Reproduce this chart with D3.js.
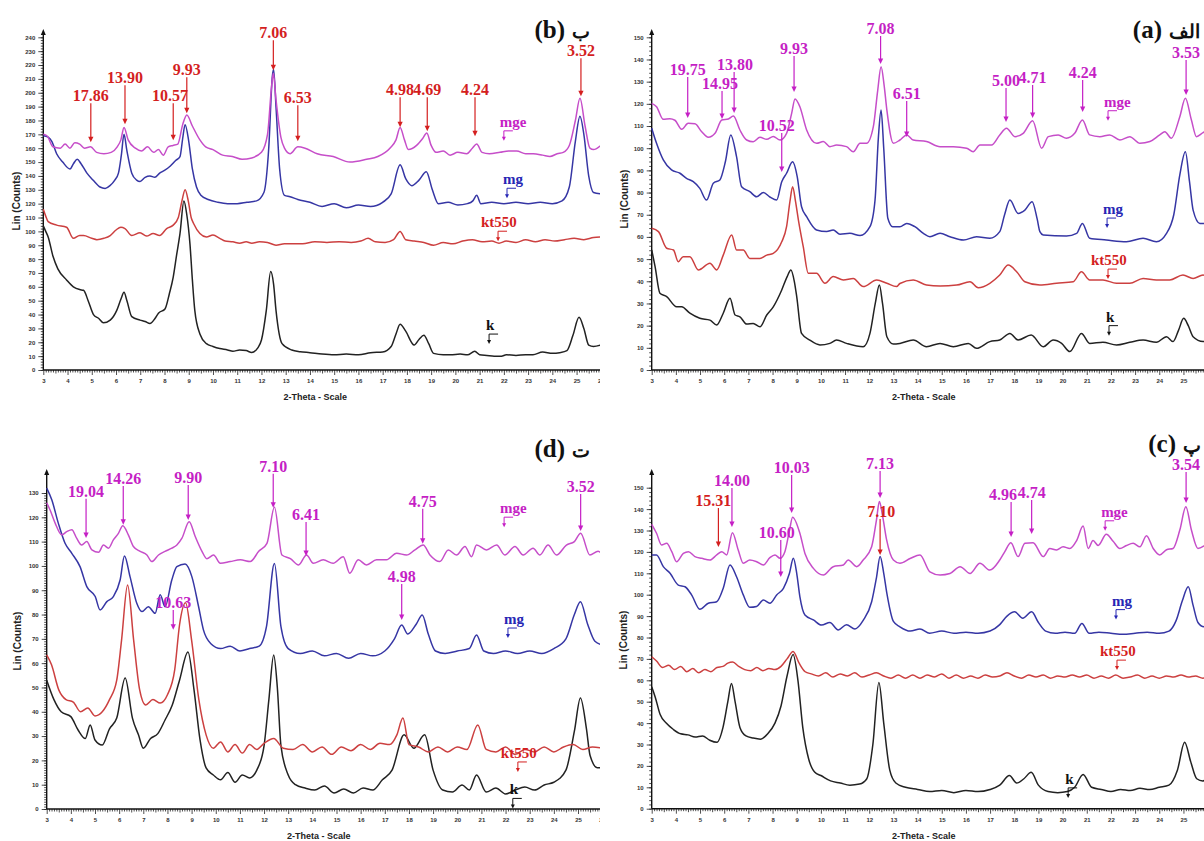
<!DOCTYPE html>
<html><head><meta charset="utf-8">
<script src="https://cdn.jsdelivr.net/npm/d3@7"></script>
<style>
body{margin:0;background:#fff}
svg{display:block}
.tick text{font-family:"Liberation Sans",Arial,sans-serif;font-weight:bold;font-size:6px;fill:#333}
</style></head><body>
<svg id="chart" width="1204" height="841"></svg>
<script>
// ---- panel (b) ----
const b_mge = [[3.0,170],[3.15,169],[3.4,161],[3.7,160],[3.9,163],[4.1,160],[4.3,164],[4.5,163],[4.7,160],[4.95,161],[5.2,157],[5.5,156],[5.8,157],[6.05,161],[6.2,166],[6.33,175],[6.5,166],[6.8,160],[7.05,158],[7.3,161],[7.55,157],[7.75,159],[7.95,155],[8.15,161],[8.35,162],[8.55,163],[8.75,177],[8.92,184],[9.15,176],[9.46,166],[9.7,161],[10.0,159],[10.4,155],[10.8,154],[11.2,152],[11.6,153],[12.0,157],[12.25,170],[12.42,205],[12.49,214],[12.6,195],[12.8,168],[12.95,160],[13.18,156],[13.5,161],[13.8,160],[14.3,156],[14.96,154],[15.65,150],[16.34,152],[16.8,154],[17.3,160],[17.55,166],[17.72,175],[17.9,166],[18.06,159],[18.4,162],[18.65,167],[18.82,171],[19.0,162],[19.2,157],[19.5,158],[19.78,155],[20.1,157],[20.47,156],[20.7,160],[20.88,163],[21.1,157],[21.4,156],[21.84,157],[22.2,158],[22.53,158],[22.9,156],[23.21,156],[23.6,155],[23.9,154],[24.2,156],[24.45,157],[24.7,162],[24.95,180],[25.14,196],[25.35,176],[25.55,160],[25.7,159],[26,162]];
const b_mg = [[3.0,169],[3.2,168],[3.35,165],[3.55,156],[3.8,150],[4.1,145],[4.25,149],[4.4,152],[4.55,149],[4.8,142],[5.05,137],[5.34,132],[5.55,131],[5.75,133],[5.95,137],[6.1,142],[6.22,155],[6.33,170],[6.45,158],[6.65,142],[6.85,137],[6.99,136],[7.2,139],[7.4,140],[7.6,139],[7.8,142],[8.0,144],[8.23,147],[8.45,151],[8.64,154],[8.75,167],[8.85,177],[9.0,165],[9.15,145],[9.32,132],[9.5,126],[9.8,123],[10.2,121],[10.6,120],[11.0,120],[11.4,121],[11.8,122],[12.1,128],[12.3,160],[12.45,212],[12.5,217],[12.6,190],[12.75,145],[12.95,126],[13.18,125],[13.5,123],[14.0,121],[14.5,118],[15.0,120],[15.5,117],[16.0,119],[16.5,118],[17.0,121],[17.35,127],[17.72,148],[17.95,138],[18.2,133],[18.5,137],[18.8,143],[19.05,130],[19.3,120],[19.7,121],[20.1,119],[20.5,120],[20.72,122],[20.88,126],[21.05,120],[21.5,121],[22.0,120],[22.5,121],[23.0,120],[23.5,121],[24.0,120],[24.4,122],[24.7,132],[24.95,165],[25.14,183],[25.3,170],[25.5,140],[25.7,128],[26,127]];
const b_kt = [[3.0,116],[3.1,111],[3.2,107],[3.55,104.5],[3.96,103],[4.24,95],[4.5,97],[4.66,97],[5.0,95],[5.21,94],[5.5,95],[5.76,97],[6.0,101],[6.2,103],[6.37,102],[6.65,97],[6.99,99],[7.26,96.6],[7.53,98.5],[7.8,97],[8.09,102],[8.36,104.5],[8.57,110],[8.72,122],[8.85,130],[8.98,122],[9.1,110],[9.2,105.7],[9.46,98.5],[9.73,96],[10.0,97.3],[10.28,95],[10.5,93],[10.82,92.5],[11.1,91.5],[11.37,92.5],[11.6,91.5],[11.92,92.5],[12.25,92],[12.6,90],[12.95,91],[13.3,91],[13.7,91],[14.2,92.5],[14.7,92],[15.2,92.5],[15.7,92],[16.1,93],[16.4,95],[16.7,92.5],[17.1,92],[17.45,94],[17.72,100],[17.95,94],[18.3,93],[18.7,92],[19.1,90],[19.5,92],[19.9,91],[20.3,93],[20.7,94],[21.1,92.5],[21.5,93],[21.8,91.5],[22.1,93],[22.5,92],[22.9,94],[23.3,92.5],[23.7,94],[24.1,93],[24.5,94],[24.9,95],[25.3,94],[25.7,95.5],[26,96]];
const b_k = [[3.0,104],[3.1,100],[3.2,96],[3.4,82],[3.6,73],[3.96,65],[4.24,60],[4.5,58],[4.66,57.5],[4.85,50],[5.07,40],[5.3,37],[5.48,34],[5.76,36],[6.03,43],[6.2,51],[6.33,56],[6.45,50],[6.65,38.5],[6.99,36],[7.2,35],[7.4,33.6],[7.6,37],[7.75,41],[8.02,44],[8.2,55],[8.36,67],[8.5,83],[8.64,98.5],[8.8,122],[8.92,112],[9.05,91],[9.15,65],[9.25,43],[9.46,26],[9.73,19],[10.0,17],[10.28,15.5],[10.6,14.5],[10.82,13.5],[11.1,14.5],[11.37,14],[11.6,12.7],[11.85,16],[12.0,21.6],[12.2,43],[12.38,71],[12.5,62],[12.6,43],[12.85,19],[13.25,14.4],[13.6,13.2],[14.0,12.5],[14.5,11.5],[15.0,11],[15.5,11.5],[16.0,11],[16.5,12.5],[17.0,13],[17.35,17],[17.55,26],[17.72,33],[17.95,28],[18.3,18],[18.5,22],[18.7,25],[18.9,19],[19.1,12],[19.5,11],[19.8,11],[20.2,11.5],[20.5,11],[20.8,13.5],[21.0,11],[21.3,10.5],[21.6,10],[21.9,10],[22.1,11],[22.5,10.5],[22.9,11],[23.2,11],[23.6,13],[24.0,12],[24.3,12.5],[24.6,14],[24.85,25],[25.1,38],[25.3,30],[25.5,18],[25.7,17],[26,18]];
// [label, 2-theta, arrow top (counts), arrow tip (counts), sample, label 2-theta]
const b_peaks = [["17.86",4.96,192.4,164.3,"kt550"],["13.90",6.37,205.4,177.3,"kt550"],["10.57",8.36,192.4,165.8,"kt550",8.23],["9.93",8.92,211.2,185.2,"kt550"],["7.06",12.49,237.8,216.2,"kt550"],["6.53",13.5,191,165,"kt550"],["4.98",17.72,196.8,175.1,"kt550"],["4.69",18.84,196.8,172.3,"kt550"],["4.24",20.81,196.8,168.6,"kt550"],["3.52",25.18,224.9,197.5,"kt550"]];
const b_tags = [["mge",22.0,175.4],["mg",22.13,134],["kt550",21.76,103],["k",21.39,28.8]];

// ---- panel (a) ----
const a_mge = [[3.0,120.2],[3.2,118.7],[3.48,113],[3.75,113.3],[3.96,112.6],[4.24,108.5],[4.51,111.2],[4.79,111],[5.07,107.4],[5.34,104.9],[5.62,106.7],[5.9,112.7],[6.17,113.2],[6.38,114.5],[6.65,108.2],[6.93,103.7],[7.2,102.9],[7.48,104.9],[7.76,104],[8.03,105.3],[8.31,103.7],[8.58,106.7],[8.79,115.7],[8.93,122.2],[9.13,118.7],[9.41,108.2],[9.82,102.2],[10.1,103],[10.37,100.7],[10.65,101.4],[11.06,100.7],[11.34,98.4],[11.62,102.2],[11.89,102.2],[12.17,109.7],[12.35,126],[12.49,136.7],[12.62,128],[12.73,117.2],[13.0,102.2],[13.27,103.7],[13.55,106],[13.82,103.7],[14.37,103],[14.93,100.7],[15.48,100.7],[16.03,100],[16.3,98.4],[16.58,101.4],[17.06,101.4],[17.4,106],[17.68,109],[18.03,105.2],[18.37,106.7],[18.76,112.4],[19.13,100],[19.41,105.2],[19.82,106],[20.16,104.5],[20.5,106.7],[20.82,112.7],[21.12,106],[21.54,105.2],[21.95,106],[22.37,103.7],[22.78,105.2],[23.2,102.2],[23.61,103],[24.02,106],[24.23,107.4],[24.5,104.5],[24.85,114.2],[25.08,122.5],[25.33,112.7],[25.54,105.2],[25.81,107],[26,108]];
const a_mg = [[3.0,109],[3.2,102.2],[3.48,94.7],[3.82,90.2],[4.17,88.7],[4.44,86.4],[4.72,84.9],[4.99,81.9],[5.27,76.6],[5.55,84.2],[5.82,85.7],[6.05,94],[6.27,106],[6.51,96.2],[6.72,82.6],[7.06,80.4],[7.34,78.1],[7.62,80],[7.89,78],[8.17,76.6],[8.38,84.9],[8.58,88.7],[8.83,93.9],[9.02,87.2],[9.2,73.6],[9.41,69.1],[9.82,63.1],[10.24,62.4],[10.51,63.1],[10.79,61.2],[11.2,61.6],[11.62,60.6],[12.03,64.6],[12.24,76.6],[12.38,105],[12.49,117.2],[12.6,100],[12.77,68.4],[12.97,64.6],[13.27,64.6],[13.55,66.1],[13.89,64.6],[14.24,61.6],[14.51,60.1],[14.93,61.6],[15.34,60.1],[15.9,58.6],[16.44,60.1],[16.99,59.4],[17.4,62.4],[17.6,70],[17.82,76.6],[18.16,70.6],[18.44,72.1],[18.74,75.9],[18.95,68],[19.06,62.4],[19.2,60.9],[20.16,60.4],[20.58,61.6],[20.82,66.1],[21.12,59.4],[21.81,58.6],[22.64,57.8],[23.33,59.4],[23.88,57.8],[24.3,61.6],[24.6,70],[24.85,88],[25.08,98.4],[25.25,85],[25.4,72.1],[25.68,66.1],[26,66]];
const a_kt = [[3.0,63.9],[3.28,62.4],[3.62,54.9],[3.9,54.1],[4.1,48.8],[4.3,51.1],[4.58,51.1],[4.93,45.1],[5.41,48.1],[5.69,45.1],[5.96,51.8],[6.31,60.9],[6.51,54.1],[6.79,54.1],[7.06,50.3],[7.48,50.3],[7.76,51.8],[8.03,52.6],[8.38,57.8],[8.58,64.6],[8.72,76],[8.83,82.6],[8.95,76],[9.07,67.6],[9.27,55.6],[9.48,43.6],[9.82,43.6],[10.17,39.1],[10.51,42.1],[10.93,40.6],[11.34,41.3],[11.75,37.6],[12.31,40.6],[12.73,39.1],[13.13,37.6],[13.27,39],[13.82,40.6],[14.37,38.3],[14.93,37.9],[15.62,38.3],[16.17,39.8],[16.51,37.1],[16.99,39.1],[17.4,42.8],[17.75,47.3],[18.1,44.3],[18.44,39.8],[19.06,38.3],[19.75,39.1],[20.44,39.8],[20.78,44.3],[21.12,40.6],[21.67,40.6],[22.23,39.1],[22.78,39.1],[23.33,41.3],[23.88,40.6],[24.43,40.6],[24.98,42.8],[25.4,41.3],[25.81,42.8],[26,42]];
const a_k = [[3.0,54.1],[3.14,46.6],[3.34,34.6],[3.62,33.1],[4.03,28.5],[4.24,28.5],[4.58,25.6],[4.99,23.3],[5.41,22.5],[5.69,20.3],[5.96,25.6],[6.24,32.3],[6.45,24.8],[6.65,24],[6.93,20.7],[7.2,21],[7.48,19.5],[7.76,24.8],[8.03,28.5],[8.38,36.1],[8.6,42],[8.76,45.1],[8.9,40],[9.0,33.1],[9.2,16.5],[9.54,13.5],[9.96,11.3],[10.37,12],[10.65,13.5],[11.06,12],[11.75,10.5],[12.03,16.5],[12.25,30],[12.42,38.3],[12.55,30],[12.73,15],[13.0,11.7],[13.27,12],[13.82,13.5],[14.37,10.5],[14.93,12],[15.48,10.5],[16.1,12],[16.44,9.8],[16.99,12.8],[17.4,13.5],[17.82,16.5],[18.16,13.5],[18.7,15.8],[19.2,10.5],[19.61,13.5],[19.96,12],[20.3,8.3],[20.78,16.5],[21.12,12],[21.67,12.5],[22.23,11.3],[22.78,12.5],[23.33,13.5],[23.88,12.5],[24.3,15],[24.57,12.8],[24.8,18],[25.01,23.3],[25.2,20],[25.4,15],[25.81,12.8],[26,13]];
const a_peaks = [["19.75",4.49,132.1,113.6,"mge"],["14.95",5.91,125.8,113.2,"mge",5.83],["13.80",6.41,134.4,115.9,"mge",6.45],["10.52",8.38,106.9,89.3,"mge",8.17],["9.93",8.89,141.6,125.3,"mge"],["7.08",12.47,150.6,138,"mge"],["6.51",13.55,121.3,105,"mge"],["5.00",17.66,127.1,111.8,"mge"],["4.71",18.76,128.5,113.6,"mge"],["4.24",20.83,130.7,116.3,"mge"],["3.53",25.11,139.8,124,"mge"]];
const a_tags = [["mge",21.88,118.7],["mg",21.84,70.3],["kt550",21.88,47.3],["k",21.92,21.8]];

// ---- panel (d) ----
const d_mge = [[3.0,126],[3.14,123],[3.35,117.6],[3.62,112.8],[3.83,114.1],[4.04,114.9],[4.24,111.4],[4.45,108.6],[4.66,110],[4.87,106.6],[5.15,105.6],[5.35,108.6],[5.56,107.3],[5.76,110.7],[5.97,113.4],[6.15,116.5],[6.38,112.8],[6.59,108],[6.87,106],[7.15,104.5],[7.35,101.8],[7.63,104.5],[7.9,106],[8.18,107.3],[8.39,108.6],[8.6,111.4],[8.9,118.2],[9.15,112.1],[9.43,106],[9.63,103],[9.91,104.5],[10.19,101.1],[10.6,101.8],[11.02,102.5],[11.43,101.8],[11.78,106],[12.12,109.3],[12.43,124.2],[12.74,104.5],[13.09,103],[13.43,100.4],[13.76,104.5],[14.04,101.1],[14.45,102.5],[14.86,101.1],[15.28,103.8],[15.55,97],[15.9,102.5],[16.24,100.4],[16.66,102.5],[17.07,102.5],[17.49,105.2],[17.9,104.5],[18.25,106.6],[18.59,108.6],[18.87,104.5],[19.28,101.8],[19.63,106.6],[19.97,104.5],[20.32,108],[20.59,103.8],[20.8,108.6],[21.21,106.6],[21.63,108.6],[21.97,104.5],[22.39,108],[22.73,104.5],[23.14,107.3],[23.42,104.5],[23.76,108.6],[24.11,104.5],[24.52,108.6],[24.85,110],[25.11,113.4],[25.49,104.5],[25.83,106],[26,105]];
const d_mg = [[3.0,132],[3.21,127.2],[3.48,117.6],[3.76,109.3],[4.04,105.2],[4.38,99.7],[4.66,91.5],[5.01,87.4],[5.21,81.9],[5.49,85.3],[5.76,87.4],[6.04,94.2],[6.22,104.1],[6.45,95.6],[6.73,84.6],[6.94,81.2],[7.21,83.2],[7.49,80.5],[7.7,88.1],[7.9,83.2],[8.18,94.2],[8.39,99.7],[8.73,100.8],[9.01,95.6],[9.29,83.2],[9.49,73.7],[9.8,68],[10.2,66],[10.6,67],[11.0,65],[11.4,66],[11.8,67],[12.1,75],[12.43,101],[12.7,75],[13.0,66],[13.5,64],[14.0,65],[14.5,63],[15.0,64],[15.5,62],[16.0,64],[16.5,63],[17.0,65],[17.4,70],[17.7,75.7],[17.95,72],[18.3,76],[18.55,79.8],[18.8,72],[19.1,65],[19.5,64],[20.0,65],[20.5,66],[20.8,71.6],[21.1,65],[21.5,64],[22.0,65],[22.5,64],[23.0,65],[23.5,64],[24.0,66],[24.5,70],[24.85,80],[25.1,85.3],[25.4,76],[25.7,69],[26,67.5]];
const d_kt = [[3.0,63.4],[3.2,59.3],[3.5,49],[3.8,45],[4.1,44],[4.4,40],[4.7,41.6],[5.0,38.3],[5.3,40],[5.6,45],[5.9,53],[6.1,69.5],[6.35,92.2],[6.6,69.5],[6.85,49],[7.1,42.8],[7.4,45],[7.7,43.6],[8.0,47],[8.3,57.2],[8.5,75.7],[8.75,84.8],[9.0,69.5],[9.3,45],[9.6,30.5],[9.9,25],[10.2,27.6],[10.5,23.5],[10.8,26.5],[11.1,23],[11.4,26.5],[11.7,24.5],[12.0,27],[12.4,29],[12.8,25],[13.2,24.5],[13.6,26.5],[14.0,23.5],[14.4,25.5],[14.8,22.5],[15.2,25.5],[15.6,24],[16.0,26.5],[16.4,24.5],[16.8,27],[17.2,26.5],[17.5,30.5],[17.75,37.4],[18.0,26.5],[18.4,25.5],[18.8,23.5],[19.2,25.5],[19.6,23.5],[20.0,25.5],[20.4,24.5],[20.85,34.6],[21.2,24.5],[21.6,23.5],[22.0,25.5],[22.4,22.5],[22.8,24.5],[23.2,23.5],[23.6,25.5],[24.0,23.5],[24.4,25.5],[24.8,26.5],[25.2,24.5],[25.6,25.5],[26,25]];
const d_k = [[3.0,53],[3.3,45],[3.6,40],[4.0,38],[4.3,32.5],[4.6,29],[4.8,34.6],[5.0,28.4],[5.3,26.3],[5.6,33],[5.9,37.4],[6.25,53.9],[6.55,37.4],[6.8,30.5],[7.0,25],[7.3,29],[7.6,31],[7.9,36.6],[8.2,42.8],[8.5,53],[8.85,64.6],[9.1,49],[9.35,28.4],[9.6,16.9],[9.9,14],[10.2,12],[10.5,15],[10.8,11],[11.1,14],[11.4,12.8],[11.7,16],[12.0,26],[12.2,45],[12.4,63.4],[12.55,50],[12.7,26],[13.0,14],[13.3,10],[13.7,8.6],[14.1,7.8],[14.5,9.5],[14.9,6.6],[15.3,8.2],[15.7,6.6],[16.1,8.6],[16.5,7.8],[16.9,12],[17.3,16],[17.8,30.5],[18.2,25],[18.65,30.5],[19.0,16],[19.4,7.8],[19.8,7],[20.2,9.9],[20.5,7.8],[20.8,14],[21.2,7],[21.6,8.6],[22.0,6.2],[22.4,7.8],[22.8,9],[23.2,7.8],[23.6,9.9],[24.0,11],[24.5,16],[24.85,32],[25.1,45.7],[25.35,33],[25.5,22],[25.8,17],[26,17]];
const d_peaks = [["19.04",4.63,127.6,111.5,"mge"],["14.26",6.17,132.9,116.9,"mge"],["9.90",8.86,133.3,118.9,"mge"],["7.10",12.38,137.9,123.9,"mge"],["6.41",13.74,118.1,104.1,"mge"],["4.75",18.57,123.5,109.1,"mge"],["3.52",25.11,129.6,114.4,"mge"],["4.98",17.7,92.6,77.8,"mge"],["10.63",8.24,81.9,73.7,"mge"]];
const d_tags = [["mge",21.94,121.7],["mg",22.1,76.1],["kt550",22.51,21],["k",22.3,6]];

// ---- panel (c) ----
const c_mge = [[3.0,132.9],[3.2,128.7],[3.41,123.2],[3.62,124],[3.83,120.1],[4.03,115.4],[4.31,119.3],[4.52,120.1],[4.79,117.8],[5.07,117],[5.41,116.2],[5.69,118.6],[5.9,120.1],[6.1,118.6],[6.34,129],[6.58,120.9],[6.79,114.7],[7.06,116.2],[7.34,115.4],[7.62,113.9],[7.89,117.3],[8.1,118.6],[8.31,117],[8.51,120.1],[8.7,130],[8.83,136.2],[9.13,128.7],[9.34,119.3],[9.69,112.3],[10.1,109.2],[10.51,113.1],[10.93,113.9],[11.13,116.2],[11.48,113.1],[11.75,116.2],[12.1,122.4],[12.3,135],[12.42,143.5],[12.55,137],[12.72,125.6],[13.0,116.2],[13.27,114.7],[13.69,116.9],[14.1,118.6],[14.51,110.7],[14.93,109.2],[15.34,109.9],[15.76,113.1],[16.17,109.9],[16.58,114.7],[16.99,111.5],[17.4,116.2],[17.61,120.1],[17.86,124.3],[18.16,117.8],[18.44,124],[18.78,124.3],[19.2,117.8],[19.47,121.6],[19.75,120.9],[20.02,122.4],[20.3,121.6],[20.58,125.3],[20.85,132.1],[21.06,121.6],[21.26,125.3],[21.47,123],[21.81,128.2],[22.09,125],[22.37,121.6],[22.64,123],[22.92,124],[23.2,122.4],[23.47,127.6],[23.75,121.6],[24.02,118.6],[24.3,121],[24.57,121.6],[24.85,130.2],[25.1,141.1],[25.33,130.2],[25.6,121.6],[26,124]];
const c_mg = [[3.0,118.6],[3.2,118.6],[3.48,113.1],[3.76,110],[4.1,104.5],[4.38,103.7],[4.65,99.9],[4.99,93.2],[5.34,96],[5.69,96.7],[5.96,103],[6.24,113.9],[6.51,108.4],[6.79,99.9],[7.06,94.1],[7.34,94.5],[7.62,97.5],[7.89,96],[8.17,99.9],[8.45,103],[8.7,110],[8.86,117],[9.0,110],[9.13,99.1],[9.34,90.5],[9.69,88.2],[10.03,85.8],[10.37,87],[10.72,83.5],[11.06,86],[11.41,84],[11.75,88],[12.1,96.7],[12.3,108],[12.45,117.8],[12.6,110],[12.73,100.6],[13.0,87.5],[13.27,85],[13.7,83],[14.1,84],[14.5,82],[15.0,83],[15.5,82],[16.0,82.5],[16.5,82],[17.0,83],[17.4,86],[17.7,90],[18.02,92],[18.35,89],[18.72,92],[19.0,87],[19.3,83],[19.7,82],[20.1,82.5],[20.5,82],[20.8,86.6],[21.1,82],[21.5,82.5],[22.0,82],[22.5,81.5],[23.0,82],[23.5,82.5],[24.0,82],[24.4,83],[24.7,88],[24.95,97],[25.2,103.7],[25.4,95],[25.6,87],[25.85,85],[26,85]];
const c_kt = [[3.0,71],[3.2,69],[3.45,66],[3.7,67],[3.95,65],[4.2,66.5],[4.45,64],[4.7,65.5],[4.95,63.5],[5.2,65],[5.45,64],[5.7,66],[5.95,66.5],[6.15,68],[6.35,68.5],[6.6,66.5],[6.85,65],[7.1,64.5],[7.35,66],[7.6,64.5],[7.85,65.5],[8.1,65],[8.35,66.5],[8.6,70],[8.85,73.5],[9.1,68],[9.35,64],[9.6,63],[9.9,62],[10.2,63.5],[10.5,61.5],[10.8,63],[11.1,62],[11.4,63.5],[11.7,61.5],[12.0,62.5],[12.3,63.5],[12.6,62],[12.9,61],[13.2,62.5],[13.5,61],[13.8,62.5],[14.1,61],[14.4,62.5],[14.7,61.5],[15.0,63],[15.3,61],[15.6,62.5],[15.9,61],[16.2,62],[16.5,61],[16.8,62.5],[17.1,61.5],[17.4,62],[17.7,63.5],[18.0,62],[18.3,61],[18.6,62.5],[18.9,61.5],[19.2,62.5],[19.5,61],[19.8,62],[20.1,61.5],[20.4,62.5],[20.7,61.5],[21.0,62.5],[21.3,61],[21.6,62],[21.9,61],[22.2,62.5],[22.5,61],[22.8,61.5],[23.1,62.5],[23.4,61],[23.7,62],[24.0,61],[24.3,62],[24.6,61.5],[24.9,62.5],[25.2,61.5],[25.5,62],[25.8,61],[26,61.5]];
const c_k = [[3.0,57],[3.15,52],[3.35,44],[3.6,40],[3.9,37],[4.2,35],[4.5,34.5],[4.8,33.5],[5.1,34],[5.4,32],[5.7,31],[5.95,38],[6.15,50],[6.3,58.5],[6.45,50],[6.65,38],[6.9,34],[7.2,33],[7.5,32.5],[7.8,35],[8.1,40],[8.35,48],[8.6,62],[8.85,72],[9.05,60],[9.25,38],[9.5,23],[9.75,17],[10.0,15.5],[10.4,13],[10.8,12],[11.2,11],[11.6,11.5],[11.9,14],[12.15,30],[12.4,59],[12.6,40],[12.85,18],[13.1,12],[13.5,10],[14.0,9],[14.5,8],[15.0,8.5],[15.5,7.5],[16.0,8.5],[16.5,8],[17.0,9],[17.4,11],[17.8,15.5],[18.1,12],[18.4,14],[18.7,17],[19.0,11],[19.4,8],[19.8,7.5],[20.2,8],[20.5,10],[20.85,16],[21.2,10],[21.6,9],[22.0,8],[22.4,9],[22.8,8.5],[23.2,9.5],[23.6,9],[24.0,10],[24.4,11],[24.75,18],[25.05,31],[25.3,22],[25.55,14],[25.8,13],[26,14]];
const c_peaks = [["15.31",5.76,140.5,122.3,"kt550",5.55],["14.00",6.32,149.9,131.6,"mge"],["10.03",8.79,155.9,138.2,"mge"],["10.60",8.34,125.6,108.3,"mge",8.17],["7.13",12.45,157.8,145.2,"mge"],["7.10",12.45,135.4,118.6,"kt550",12.5],["4.96",17.87,143.3,127,"mge",17.53],["4.74",18.72,144.3,128.4,"mge"],["3.54",25.11,157.3,142.9,"mge"]];
const c_tags = [["mge",21.76,136.4],["mg",22.21,94.9],["kt550",22.25,71.3],["k",20.23,11.6]];

// layout of the four panels (pixels)
const panels = [
  {id:"b", mge:b_mge, mg:b_mg, kt550:b_kt, k:b_k, peaks:b_peaks, tags:b_tags, ymax:240, minor:2,
   x0:43.3, kx:24.24, y0:370, ytop:37.3, axTop:33, clip:[0,0,600,420], title:"(b)", fa:"ب", tx:565, ty:38, ylab:[16,201], xlabY:400},
  {id:"a", mge:a_mge, mg:a_mg, kt550:a_kt, k:a_k, peaks:a_peaks, tags:a_tags, ymax:150, minor:2,
   x0:651.7, kx:24.17, y0:370, ytop:37.3, axTop:33, clip:[605,0,600,420], title:"(a)", fa:"الف", tx:1162, ty:38, ylab:[624,199], xlabY:400},
  {id:"d", mge:d_mge, mg:d_mg, kt550:d_kt, k:d_k, peaks:d_peaks, tags:d_tags, ymax:130, minor:1,
   x0:46.7, kx:24.15, y0:809, ytop:493, axTop:473, clip:[0,420,600,421], title:"(d)", fa:"ت", tx:565, ty:457, ylab:[17,641], xlabY:839},
  {id:"c", mge:c_mge, mg:c_mg, kt550:c_kt, k:c_k, peaks:c_peaks, tags:c_tags, ymax:150, minor:2,
   x0:651.7, kx:24.17, y0:808.7, ytop:487.7, axTop:473, clip:[605,420,600,421], title:"(c)", fa:"پ", tx:1176, ty:452, ylab:[623,640], xlabY:839}
];

const lineColor = {mge:"#c64ec9", mg:"#3636a4", kt550:"#cc4040", k:"#222"};
const textColor = {mge:"#c51fc5", mg:"#2626b4", kt550:"#d41f1f", k:"#111"};
const tagShift = {mge:4, mg:4, kt550:17, k:3};
const serif = "'Liberation Serif','Times New Roman','DejaVu Serif',serif";
const sans = "'Liberation Sans',Arial,sans-serif";

const svg = d3.select("#chart");
const defs = svg.append("defs");

panels.forEach(p => {
  defs.append("clipPath").attr("id", "clip-" + p.id)
    .append("rect").attr("x", p.clip[0]).attr("y", p.clip[1]).attr("width", p.clip[2]).attr("height", p.clip[3]);

  const x = d3.scaleLinear().domain([3, 26]).range([p.x0, p.x0 + 23 * p.kx]);
  const y = d3.scaleLinear().domain([0, p.ymax]).range([p.y0, p.ytop]);
  const g = svg.append("g").attr("clip-path", `url(#clip-${p.id})`);

  // x axis: minor, half and major ticks
  const xMinor = d3.range(30, 261).map(v => v / 10).filter(v => v % 1 !== 0 && v % 1 !== 0.5);
  const xHalf = d3.range(3.5, 26, 1);
  g.append("g").attr("transform", `translate(0,${p.y0})`)
    .call(d3.axisBottom(x).tickValues(xMinor).tickSize(2.5).tickFormat(""))
    .call(a => a.select(".domain").remove());
  g.append("g").attr("transform", `translate(0,${p.y0})`)
    .call(d3.axisBottom(x).tickValues(xHalf).tickSize(3.5).tickFormat(""))
    .call(a => a.select(".domain").remove());
  g.append("g").attr("transform", `translate(0,${p.y0})`)
    .call(d3.axisBottom(x).tickValues(d3.range(3, 27)).tickSize(5).tickPadding(4).tickFormat(d3.format("d")))
    .call(a => a.select(".domain").remove());

  // y axis
  g.append("g").attr("transform", `translate(${p.x0},0)`)
    .call(d3.axisLeft(y).tickValues(d3.range(0, p.ymax + 0.1, p.minor)).tickSize(2.5).tickFormat(""))
    .call(a => a.select(".domain").remove());
  g.append("g").attr("transform", `translate(${p.x0},0)`)
    .call(d3.axisLeft(y).tickValues(d3.range(0, p.ymax + 0.1, 10)).tickSize(5).tickPadding(3))
    .call(a => a.select(".domain").remove());
  g.selectAll(".tick line").attr("stroke", "#222").attr("stroke-width", 0.8);

  // axis lines with small arrow heads
  const xEnd = x(26) + 3;
  g.append("path").attr("d", `M${p.x0},${p.y0}H${xEnd}M${p.x0},${p.y0}V${p.axTop}`)
    .attr("stroke", "#111").attr("stroke-width", 1.4).attr("fill", "none");
  g.append("path").attr("d", `M${xEnd+4},${p.y0}l-6,-2.5v5z M${p.x0},${p.axTop-4}l-2.5,6h5z`).attr("fill", "#111");

  // axis titles
  g.append("text").attr("x", p.x0 + 272).attr("y", p.xlabY).attr("text-anchor", "middle")
    .attr("font-family", sans).attr("font-weight", "bold").attr("font-size", 9).attr("fill", "#222")
    .text("2-Theta - Scale");
  g.append("text").attr("transform", `translate(${p.ylab[0]},${p.ylab[1]}) rotate(-90)`)
    .attr("text-anchor", "middle").attr("dy", "0.35em")
    .attr("font-family", sans).attr("font-weight", "bold").attr("font-size", 10).attr("fill", "#222")
    .text("Lin (Counts)");

  // traces
  const line = d3.line().x(d => x(d[0])).y(d => y(d[1])).curve(d3.curveMonotoneX);
  ["k", "kt550", "mg", "mge"].forEach(s => {
    g.append("path").datum(p[s]).attr("d", line)
      .attr("fill", "none").attr("stroke", lineColor[s]).attr("stroke-width", 1.5)
      .attr("stroke-linejoin", "round");
  });

  // peak labels with arrows
  p.peaks.forEach(([lab, th, top, tip, s, tth]) => {
    const X = x(th), Y0 = y(top), Y1 = y(tip);
    g.append("path").attr("d", `M${X},${Y0}V${Y1 - 4}`)
      .attr("stroke", textColor[s]).attr("stroke-width", 1.2);
    g.append("path").attr("d", `M${X - 2.6},${Y1 - 5.5}L${X + 2.6},${Y1 - 5.5}L${X},${Y1}Z`)
      .attr("fill", textColor[s]);
    g.append("text").attr("x", x(tth === undefined ? th : tth)).attr("y", Y0 - 2)
      .attr("text-anchor", "middle").attr("font-family", serif).attr("font-weight", "bold")
      .attr("font-size", 16).attr("fill", textColor[s]).text(lab);
  });

  // sample tags with bent arrows
  p.tags.forEach(([s, th, base]) => {
    const X = x(th), B = y(base);
    g.append("text").attr("x", X - tagShift[s]).attr("y", B)
      .attr("font-family", serif).attr("font-weight", "bold").attr("font-size", 15)
      .attr("fill", textColor[s]).text(s);
    g.append("path").attr("d", `M${X + 9},${B + 4}H${X}V${B + 11}`)
      .attr("stroke", textColor[s]).attr("stroke-width", 1).attr("fill", "none");
    g.append("path").attr("d", `M${X - 2},${B + 10}L${X + 2},${B + 10}L${X},${B + 14}Z`)
      .attr("fill", textColor[s]);
  });

  // panel title
  g.append("text").attr("x", p.tx).attr("y", p.ty).attr("text-anchor", "end")
    .attr("font-family", serif).attr("font-weight", "bold").attr("font-size", 25).attr("fill", "#111")
    .text(p.title);
  g.append("text").attr("x", p.tx + 7).attr("y", p.ty).attr("text-anchor", "start")
    .attr("font-family", serif).attr("font-weight", "bold").attr("font-size", 19).attr("fill", "#111")
    .text(p.fa);
});
</script></body></html>
